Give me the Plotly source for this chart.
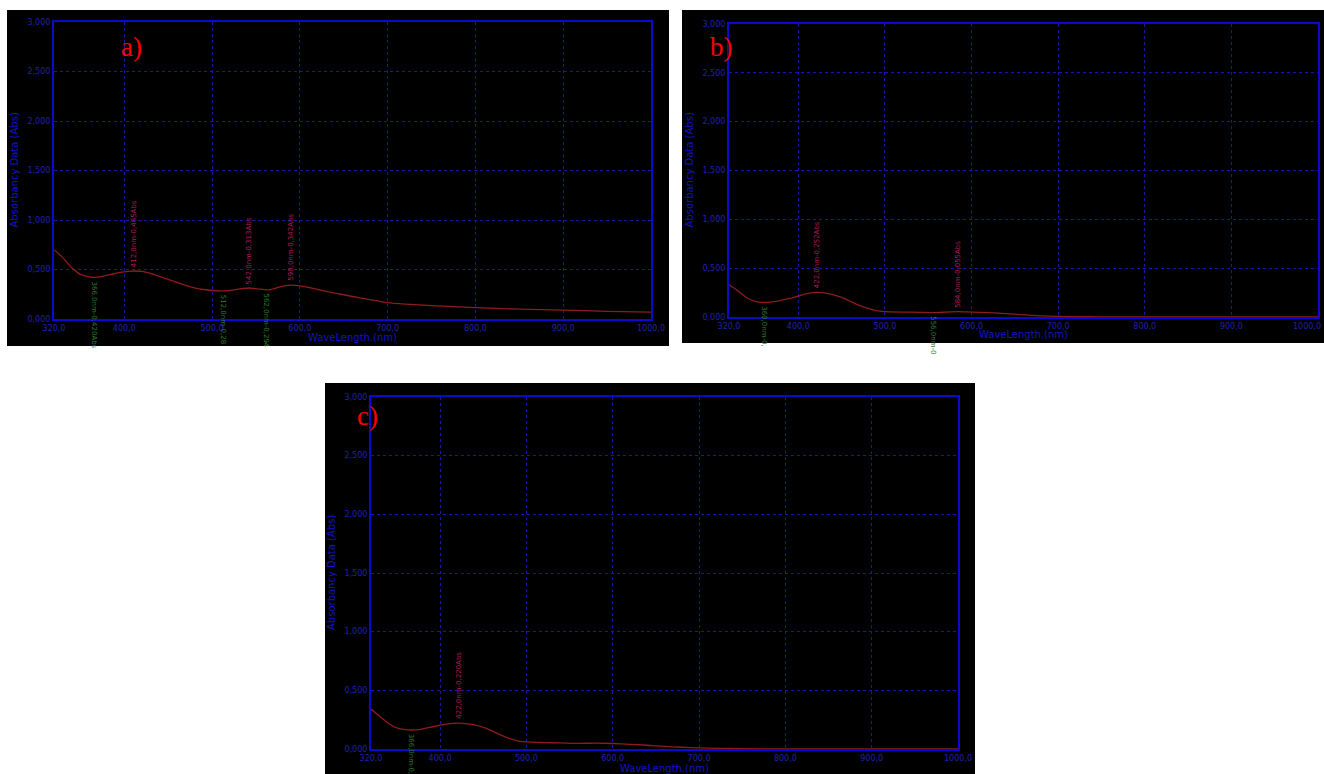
import plotly.graph_objects as go

W, H = 1324, 774

# ---- data ----
wl_a = [320, 330, 340, 350, 360, 366, 375, 385, 395, 405, 412, 420, 430, 440, 450, 460, 470, 480, 490, 500,
        512, 525, 535, 542, 552, 562, 572, 582, 590, 600, 615, 630, 650, 670, 690, 700, 720, 750, 800, 850,
        900, 950, 1000]
abs_a = [0.70, 0.62, 0.52, 0.45, 0.425, 0.420, 0.43, 0.45, 0.47, 0.482, 0.485, 0.48, 0.46, 0.43, 0.40, 0.37,
         0.34, 0.315, 0.298, 0.288, 0.285, 0.295, 0.308, 0.313, 0.305, 0.294, 0.31, 0.335, 0.342, 0.335, 0.31,
         0.28, 0.245, 0.21, 0.18, 0.165, 0.15, 0.135, 0.115, 0.10, 0.09, 0.078, 0.07]

wl_b = [320, 330, 340, 350, 360, 370, 380, 390, 400, 410, 422, 430, 440, 450, 460, 470, 480, 490, 500, 520,
        540, 556, 570, 584, 600, 620, 640, 660, 680, 700, 720, 750, 800, 900, 1000]
abs_b = [0.33, 0.27, 0.20, 0.16, 0.15, 0.155, 0.17, 0.19, 0.215, 0.24, 0.252, 0.248, 0.23, 0.20, 0.16, 0.12,
         0.09, 0.065, 0.055, 0.05, 0.048, 0.045, 0.05, 0.055, 0.05, 0.045, 0.035, 0.022, 0.012, 0.006, 0.003,
         0.002, 0.001, 0.0, 0.0]

wl_c = [320, 330, 340, 350, 360, 366, 375, 385, 395, 405, 415, 422, 430, 440, 450, 460, 470, 480, 490, 500,
        520, 540, 560, 580, 600, 620, 640, 660, 680, 700, 720, 750, 800, 900, 1000]
abs_c = [0.34, 0.28, 0.22, 0.18, 0.165, 0.162, 0.165, 0.18, 0.195, 0.21, 0.218, 0.220, 0.217, 0.205, 0.185,
         0.155, 0.12, 0.09, 0.07, 0.06, 0.055, 0.052, 0.048, 0.05, 0.047, 0.04, 0.032, 0.022, 0.015, 0.01,
         0.006, 0.003, 0.001, 0.0, 0.0]

# peak / valley labels (wavelength, abs, text)
peaks_a = [(412, 0.485, "412,0nm-0,485Abs"), (542, 0.313, "542,0nm-0,313Abs"), (590, 0.342, "590,0nm-0,342Abs")]
valleys_a = [(366, 0.420, "366,0nm-0,420Abs"), (512, 0.285, "512,0nm-0,28"), (562, 0.294, "562,0nm-0,294")]
peaks_b = [(422, 0.252, "422,0nm-0,252Abs"), (584, 0.055, "584,0nm-0,055Abs")]
valleys_b = [(360, 0.150, "360,0nm-0,"), (556, 0.045, "556,0nm-0")]
peaks_c = [(422, 0.220, "422,0nm-0,220Abs")]
valleys_c = [(366, 0.162, "366,0nm-0,")]

x_ticks = [320, 400, 500, 600, 700, 800, 900, 1000]
y_ticks = [0, 0.5, 1.0, 1.5, 2.0, 2.5, 3.0]
x_title = "WaveLength.(nm)"
y_title = "Absorbancy Data (Abs)"

# ---- geometry (pixels) ----
panels = {
    "a": dict(bg=(7, 10, 669, 346), plot=(54, 22, 651, 319), lab=(131, 47), ytx=14, xty=337),
    "b": dict(bg=(682, 10, 1324, 343), plot=(729, 24, 1318, 317), lab=(721, 47), ytx=689, xty=334),
    "c": dict(bg=(325, 383, 975, 774), plot=(371, 397, 958, 749), lab=(367, 416), ytx=331, xty=768),
}

AXIS_COL = "#0a0ad0"
TITLE_COL = "#1414c8"
GRID_COL = "#1818a8"
TICK_COL = "#2020b0"
LINE_COL = "#8e1c1c"
PEAK_COL = "#b01c5c"
VAL_COL = "#2e7a2e"

fig = go.Figure()
shapes = []
annotations = []
layout = {}

series = {"a": (wl_a, abs_a, peaks_a, valleys_a),
          "b": (wl_b, abs_b, peaks_b, valleys_b),
          "c": (wl_c, abs_c, peaks_c, valleys_c)}

for i, key in enumerate(["a", "b", "c"]):
    p = panels[key]
    x0, y0, x1, y1 = p["bg"]
    shapes.append(dict(type="rect", xref="paper", yref="paper", layer="below",
                       x0=x0 / W, x1=x1 / W, y0=1 - y1 / H, y1=1 - y0 / H,
                       fillcolor="black", line=dict(width=0)))
    px0, py0, px1, py1 = p["plot"]
    sfx = "" if i == 0 else str(i + 1)
    xa, ya = "xaxis" + sfx, "yaxis" + sfx
    xr, yr = "x" + sfx, "y" + sfx
    wl, ab, pk, vl = series[key]
    fig.add_trace(go.Scatter(x=wl, y=ab, mode="lines", xaxis=xr, yaxis=yr,
                             line=dict(color=LINE_COL, width=1.3, shape="spline", smoothing=0.6),
                             hoverinfo="skip", showlegend=False))
    common = dict(showgrid=True, gridcolor=GRID_COL, griddash="dot", gridwidth=1,
                  showline=True, linecolor=AXIS_COL, linewidth=2, mirror=True,
                  ticks="", zeroline=False, automargin=False,
                  tickfont=dict(family="DejaVu Sans", size=8, color=TICK_COL))
    layout[xa] = dict(domain=[px0 / W, px1 / W], range=[320, 1000], anchor=yr,
                      tickvals=x_ticks, tickformat=".1f", **common)
    layout[ya] = dict(domain=[1 - py1 / H, 1 - py0 / H], range=[0, 3], anchor=xr,
                      tickvals=y_ticks, tickformat=".3f", **common)
    # axis titles
    annotations.append(dict(x=(px0 + px1) / 2 / W, y=1 - p["xty"] / H, xref="paper", yref="paper",
                            text=x_title, showarrow=False, xanchor="center", yanchor="middle",
                            font=dict(family="DejaVu Sans", size=10, color=TITLE_COL)))
    annotations.append(dict(x=p["ytx"] / W, y=1 - (py0 + py1) / 2 / H, xref="paper", yref="paper",
                            text=y_title, showarrow=False, textangle=-90, xanchor="center", yanchor="middle",
                            font=dict(family="DejaVu Sans", size=10, color=TITLE_COL)))
    for (w, a, t) in pk:
        annotations.append(dict(x=w, y=a, xref=xr, yref=yr, text=t, showarrow=False,
                                textangle=-90, xanchor="center", yanchor="bottom", yshift=2,
                                font=dict(family="DejaVu Sans", size=7, color=PEAK_COL)))
    for (w, a, t) in vl:
        annotations.append(dict(x=w, y=a, xref=xr, yref=yr, text=t, showarrow=False,
                                textangle=90, xanchor="center", yanchor="top", yshift=-2,
                                font=dict(family="DejaVu Sans", size=7, color=VAL_COL)))
    lx, ly = p["lab"]
    annotations.append(dict(x=lx / W, y=1 - ly / H, xref="paper", yref="paper", text=key + ")",
                            showarrow=False, xanchor="center", yanchor="middle",
                            font=dict(family="Liberation Serif", size=27, color="#ff0000")))

# last x tick label of panel b, kept inside the right edge
annotations.append(dict(x=1.0, y=1 - 317 / H, xref="paper", yref="paper", text="1000,0", showarrow=False,
                        xanchor="right", yanchor="top", xshift=-1, yshift=-3,
                        font=dict(family="DejaVu Sans", size=8, color=TICK_COL)))

fig.update_layout(width=W, height=H, margin=dict(l=0, r=0, t=0, b=0, autoexpand=False),
                  paper_bgcolor="white", plot_bgcolor="black",
                  separators=", ", shapes=shapes, annotations=annotations, **layout)

fig.write_html("out.html")
